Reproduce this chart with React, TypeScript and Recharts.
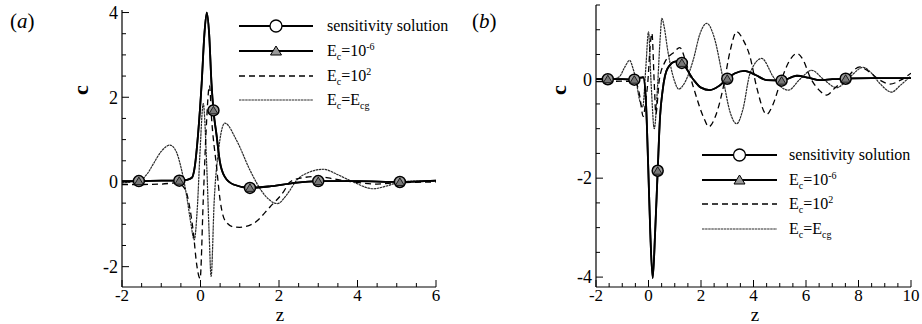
import React from "react";
import { ComposedChart, Line, XAxis, YAxis } from "recharts";

const FONT = '"Liberation Serif", "Times New Roman", serif';

// ---- panel (a) ----
const aSensZ = [-2, -1.57, -1.0, -0.54, -0.35, -0.22, -0.14, -0.06, 0.03, 0.1, 0.16, 0.22, 0.28, 0.33, 0.41, 0.49, 0.62, 0.84, 1.26, 1.8, 2.4, 3.0, 4.0, 5.08, 6.0];
const aSensC = [0.02, 0.02, 0.03, 0.03, 0.05, 0.1, 0.4, 1.15, 2.33, 3.5, 4.0, 3.5, 2.33, 1.69, 1.1, 0.5, 0.12, -0.06, -0.14, -0.1, -0.02, 0.02, 0.02, 0.0, 0.03];
const aLowZ = aSensZ;
const aLowC = [0.02, 0.02, 0.03, 0.03, 0.05, 0.1, 0.4, 1.15, 2.33, 3.5, 4.0, 3.5, 2.33, 1.69, 1.1, 0.5, 0.12, -0.06, -0.14, -0.1, -0.02, 0.02, 0.02, 0.0, 0.03];
const aHighZ = [-2, -1.5, -1.0, -0.6, -0.45, -0.35, -0.31, -0.18, -0.1, -0.01, 0.07, 0.14, 0.23, 0.28, 0.41, 0.5, 0.62, 0.84, 1.0, 1.35, 1.77, 2.11, 2.28, 2.6, 2.96, 3.4, 3.9, 4.5, 5.0, 6.0];
const aHighC = [-0.06, -0.06, -0.05, -0.02, -0.1, -0.27, -0.43, -1.21, -1.93, -2.28, -0.43, 1.15, 2.28, 1.53, 0.35, -0.43, -0.9, -1.06, -1.07, -0.98, -0.59, -0.24, 0.0, 0.1, 0.13, 0.07, 0.0, -0.05, -0.02, 0.0];
const aCgZ = [-2, -1.54, -1.35, -1.2, -1.0, -0.78, -0.62, -0.52, -0.35, -0.25, -0.16, -0.08, -0.01, 0.07, 0.16, 0.22, 0.27, 0.35, 0.46, 0.62, 0.92, 1.26, 1.6, 1.96, 2.2, 2.45, 2.8, 3.13, 3.5, 3.89, 4.4, 4.8, 5.08, 5.5, 6.0];
const aCgC = [-0.02, 0.04, 0.2, 0.43, 0.72, 0.87, 0.72, 0.43, -0.35, -0.95, -1.37, -0.6, 0.75, 1.85, 0.35, -1.21, -2.23, -0.43, 0.75, 1.39, 0.98, 0.28, -0.27, -0.51, -0.3, 0.04, 0.24, 0.3, 0.17, 0.0, -0.16, -0.08, 0.0, 0.02, 0.02];
const aMarkZ = [-1.57, -0.54, 0.33, 1.26, 3.0, 5.08];
const aMarkC = [0.02, 0.03, 1.69, -0.14, 0.02, 0.0];
const aXTicks = [-2, -1.5, -1, -0.5, 0, 0.5, 1, 1.5, 2, 2.5, 3, 3.5, 4, 4.5, 5, 5.5, 6];
const aYTicks = [-2, -1.5, -1, -0.5, 0, 0.5, 1, 1.5, 2, 2.5, 3, 3.5, 4];
const aXLabels = [-2, 0, 2, 4, 6];
const aYLabels = [-2, 0, 2, 4];

// ---- panel (b) ----
const bSensZ = [-2, -1.55, -1.0, -0.54, -0.3, -0.2, -0.1, -0.01, 0.07, 0.16, 0.25, 0.35, 0.44, 0.54, 0.73, 1.05, 1.27, 1.7, 2.0, 2.34, 2.7, 3.0, 3.3, 3.65, 4.1, 4.5, 5.07, 5.65, 6.1, 6.53, 7.0, 7.51, 8.5, 10];
const bSensC = [0.0, 0.0, 0.0, -0.01, 0.03, 0.04, -0.43, -1.78, -3.13, -4.02, -3.13, -1.85, -0.76, -0.22, 0.22, 0.36, 0.33, 0.0, -0.17, -0.22, -0.13, 0.01, 0.12, 0.17, 0.08, -0.02, -0.03, 0.07, 0.03, -0.02, 0.0, 0.01, 0.02, 0.02];
const bLowZ = bSensZ;
const bLowC = [0.0, 0.0, 0.0, -0.01, 0.03, 0.04, -0.43, -1.78, -3.13, -4.02, -3.13, -1.85, -0.76, -0.22, 0.22, 0.36, 0.33, 0.0, -0.17, -0.22, -0.13, 0.01, 0.12, 0.17, 0.08, -0.02, -0.03, 0.07, 0.03, -0.02, 0.0, 0.01, 0.02, 0.02];
const bHighZ = [-2, -1.0, -0.5, -0.35, -0.2, -0.1, -0.03, 0.07, 0.13, 0.22, 0.28, 0.41, 0.6, 0.98, 1.19, 1.45, 1.71, 2.09, 2.3, 2.55, 2.85, 3.1, 3.36, 3.62, 3.87, 4.12, 4.5, 4.75, 5.01, 5.39, 5.65, 5.9, 6.15, 6.5, 6.79, 7.1, 7.51, 8.06, 8.4, 8.82, 9.2, 9.6, 10];
const bHighC = [-0.05, -0.04, -0.05, -0.29, -0.75, -0.4, -0.09, 0.72, 0.93, -0.09, -0.7, -0.02, 0.32, 0.55, 0.64, 0.3, -0.16, -0.76, -0.96, -0.75, -0.16, 0.55, 0.96, 0.78, 0.45, -0.16, -0.71, -0.5, -0.09, 0.39, 0.52, 0.38, 0.05, -0.22, -0.32, -0.18, 0.01, 0.25, 0.15, -0.02, -0.1, -0.02, 0.12];
const bCgZ = [-2, -1.4, -1.11, -0.9, -0.72, -0.58, -0.48, -0.35, -0.22, -0.1, 0.0, 0.1, 0.22, 0.35, 0.44, 0.51, 0.6, 0.73, 0.98, 1.15, 1.4, 1.71, 1.95, 2.22, 2.5, 2.85, 3.1, 3.36, 3.6, 3.87, 4.31, 4.75, 5.0, 5.33, 5.77, 6.22, 6.66, 7.17, 7.68, 8.18, 8.5, 8.82, 9.26, 9.6, 9.96];
const bCgC = [0.0, 0.0, 0.05, 0.25, 0.38, 0.2, 0.0, -0.4, -0.56, 0.25, 0.96, -0.09, -1.0, -0.09, 0.79, 1.23, 1.05, 0.59, -0.02, -0.2, -0.05, 0.4, 0.9, 1.13, 0.85, -0.02, -0.65, -0.9, -0.6, 0.12, 0.42, 0.05, -0.13, -0.22, 0.0, 0.18, 0.0, -0.17, 0.05, 0.24, 0.12, -0.09, -0.26, -0.12, 0.05];
const bMarkZ = [-1.55, -0.54, 0.35, 1.27, 3.0, 5.07, 7.51];
const bMarkC = [0.0, -0.01, -1.85, 0.33, 0.01, -0.03, 0.01];
const bXTicks = [-2, -1.5, -1, -0.5, 0, 0.5, 1, 1.5, 2, 2.5, 3, 3.5, 4, 4.5, 5, 5.5, 6, 6.5, 7, 7.5, 8, 8.5, 9, 9.5, 10];
const bYTicks = [-4, -3.5, -3, -2.5, -2, -1.5, -1, -0.5, 0, 0.5, 1, 1.5];
const bXLabels = [-2, 0, 2, 4, 6, 8, 10];
const bYLabels = [-4, -2, 0];

type Pt = { z: number; c: number };
const zip = (z: number[], c: number[]): Pt[] => z.map((v, i) => ({ z: v, c: c[i] }));

const CG_STROKE = "#2a2a2a";
const CG_DASH = "2.5 0.6";

function CircleDot(p: any) {
  if (p.cx == null || p.cy == null) return null;
  return <circle key={`c${p.index}`} cx={p.cx} cy={p.cy} r={5.5} fill="#9a9a9a" stroke="#000" strokeWidth={1.5} />;
}

function TriangleDot(p: any) {
  if (p.cx == null || p.cy == null) return null;
  const { cx, cy } = p;
  return (
    <polygon
      key={`t${p.index}`}
      points={`${cx},${cy - 4} ${cx - 4.5},${cy + 3.5} ${cx + 4.5},${cy + 3.5}`}
      fill="#777"
      stroke="#000"
      strokeWidth={0.8}
    />
  );
}

const yTick = (labels: number[]) => (p: any) => {
  const { x, y, payload } = p;
  const major = labels.includes(payload.value);
  return (
    <g>
      <line x1={x} x2={x + (major ? 7 : 4)} y1={y} y2={y} stroke="#000" strokeWidth={1} />
      {major && (
        <text x={x - 4} y={y} dy="0.35em" textAnchor="end" fontSize={18} fontFamily={FONT} fill="#000">
          {payload.value}
        </text>
      )}
    </g>
  );
};

const xTick = (labels: number[]) => (p: any) => {
  const { x, y, payload } = p;
  const major = labels.includes(payload.value);
  return (
    <g>
      <line x1={x} x2={x} y1={y} y2={y - (major ? 7 : 4)} stroke="#000" strokeWidth={1} />
      {major && (
        <text x={x} y={y + 14} textAnchor="middle" fontSize={17} fontFamily={FONT} fill="#000">
          {payload.value}
        </text>
      )}
    </g>
  );
};

type PanelProps = {
  left: number;
  width: number;
  top: number;
  right: number;
  yAxisWidth: number;
  xDomain: [number, number];
  yDomain: [number, number];
  xTicks: number[];
  yTicks: number[];
  xLabels: number[];
  yLabels: number[];
  sens: Pt[];
  low: Pt[];
  high: Pt[];
  cg: Pt[];
  marks: Pt[];
};

function Panel(props: PanelProps) {
  return (
    <div style={{ position: "absolute", left: props.left, top: 0 }}>
      <ComposedChart width={props.width} height={324} margin={{ top: props.top, right: props.right, bottom: 0, left: 0 }}>
        <XAxis
          type="number"
          dataKey="z"
          domain={props.xDomain}
          ticks={props.xTicks}
          allowDataOverflow
          height={37}
          tickSize={0}
          tickMargin={0}
          tickLine={false}
          axisLine={{ stroke: "#000", strokeWidth: 1.2 }}
          tick={xTick(props.xLabels)}
          interval={0}
        />
        <YAxis
          type="number"
          domain={props.yDomain}
          ticks={props.yTicks}
          allowDataOverflow
          width={props.yAxisWidth}
          tickSize={0}
          tickMargin={0}
          tickLine={false}
          axisLine={{ stroke: "#000", strokeWidth: 1.2 }}
          tick={yTick(props.yLabels)}
          interval={0}
        />
        <Line data={props.cg} dataKey="c" type="monotone" stroke={CG_STROKE} strokeWidth={1.2} strokeDasharray={CG_DASH} dot={false} isAnimationActive={false} />
        <Line data={props.high} dataKey="c" type="monotone" stroke="#000" strokeWidth={1.3} strokeDasharray="6 4" dot={false} isAnimationActive={false} />
        <Line data={props.low} dataKey="c" type="monotone" stroke="#000" strokeWidth={1.8} dot={false} isAnimationActive={false} />
        <Line data={props.sens} dataKey="c" type="monotone" stroke="#000" strokeWidth={1.8} dot={false} isAnimationActive={false} />
        <Line data={props.marks} dataKey="c" stroke="none" dot={(p: any) => <CircleDot {...p} />} activeDot={false} isAnimationActive={false} />
        <Line data={props.marks} dataKey="c" stroke="none" dot={(p: any) => <TriangleDot {...p} />} activeDot={false} isAnimationActive={false} />
      </ComposedChart>
    </div>
  );
}

function LegendBox({ x0, x1, ys, tx }: { x0: number; x1: number; ys: number[]; tx: number }) {
  const mx = (x0 + x1) / 2;
  const t = { fontFamily: FONT, fontSize: 16, fill: "#000" };
  return (
    <g>
      <line x1={x0} x2={x1} y1={ys[0]} y2={ys[0]} stroke="#000" strokeWidth={1.8} />
      <circle cx={mx} cy={ys[0]} r={6} fill="#fff" stroke="#000" strokeWidth={1.3} />
      <text x={tx} y={ys[0]} dy="0.33em" {...t}>sensitivity solution</text>

      <line x1={x0} x2={x1} y1={ys[1]} y2={ys[1]} stroke="#000" strokeWidth={1.8} />
      <polygon points={`${mx},${ys[1] - 5} ${mx - 5.5},${ys[1] + 4} ${mx + 5.5},${ys[1] + 4}`} fill="#999" stroke="#000" strokeWidth={1} />
      <text x={tx} y={ys[1]} dy="0.33em" {...t}>
        E<tspan fontSize={10} dy={4}>c</tspan>
        <tspan dy={-4}>=10</tspan>
        <tspan fontSize={10} dy={-6}>-6</tspan>
      </text>

      <line x1={x0} x2={x1} y1={ys[2]} y2={ys[2]} stroke="#000" strokeWidth={1.3} strokeDasharray="6 4" />
      <text x={tx} y={ys[2]} dy="0.33em" {...t}>
        E<tspan fontSize={10} dy={4}>c</tspan>
        <tspan dy={-4}>=10</tspan>
        <tspan fontSize={10} dy={-6}>2</tspan>
      </text>

      <line x1={x0} x2={x1} y1={ys[3]} y2={ys[3]} stroke={CG_STROKE} strokeWidth={1.2} strokeDasharray={CG_DASH} />
      <text x={tx} y={ys[3]} dy="0.33em" {...t}>
        E<tspan fontSize={10} dy={4}>c</tspan>
        <tspan dy={-4}>=E</tspan>
        <tspan fontSize={10} dy={4}>cg</tspan>
      </text>
    </g>
  );
}

function Labels() {
  return (
    <svg width={922} height={324} style={{ position: "absolute", left: 0, top: 0, pointerEvents: "none" }}>
      <text x={10} y={28} fontFamily={FONT} fontSize={21}>
        (<tspan fontStyle="italic">a</tspan>)
      </text>
      <text x={472} y={28} fontFamily={FONT} fontSize={21}>
        (<tspan fontStyle="italic">b</tspan>)
      </text>
      <text x={0} y={0} transform="translate(88,90) rotate(-90)" textAnchor="middle" fontFamily={FONT} fontSize={22} fontWeight="bold">c</text>
      <text x={0} y={0} transform="translate(566,90) rotate(-90)" textAnchor="middle" fontFamily={FONT} fontSize={22} fontWeight="bold">c</text>
      <text x={280} y={321} textAnchor="middle" fontFamily={FONT} fontSize={19}>z</text>
      <text x={755} y={321} textAnchor="middle" fontFamily={FONT} fontSize={19}>z</text>
      <LegendBox x0={239} x1={313} ys={[26, 51, 76, 100]} tx={327} />
      <LegendBox x0={702} x1={777} ys={[155, 180, 204, 229]} tx={789} />
    </svg>
  );
}

export default function App() {
  return (
    <div style={{ position: "absolute", left: 0, top: 0, width: 922, height: 324, background: "#fff" }}>
      <Panel
        left={0}
        width={460}
        top={10}
        right={24}
        yAxisWidth={122}
        xDomain={[-2, 6]}
        yDomain={[-2.48, 4.06]}
        xTicks={aXTicks}
        yTicks={aYTicks}
        xLabels={aXLabels}
        yLabels={aYLabels}
        sens={zip(aSensZ, aSensC)}
        low={zip(aLowZ, aLowC)}
        high={zip(aHighZ, aHighC)}
        cg={zip(aCgZ, aCgC)}
        marks={zip(aMarkZ, aMarkC)}
      />
      <Panel
        left={461}
        width={461}
        top={5}
        right={11}
        yAxisWidth={135}
        xDomain={[-2, 10]}
        yDomain={[-4.2, 1.5]}
        xTicks={bXTicks}
        yTicks={bYTicks}
        xLabels={bXLabels}
        yLabels={bYLabels}
        sens={zip(bSensZ, bSensC)}
        low={zip(bLowZ, bLowC)}
        high={zip(bHighZ, bHighC)}
        cg={zip(bCgZ, bCgC)}
        marks={zip(bMarkZ, bMarkC)}
      />
      <Labels />
    </div>
  );
}
